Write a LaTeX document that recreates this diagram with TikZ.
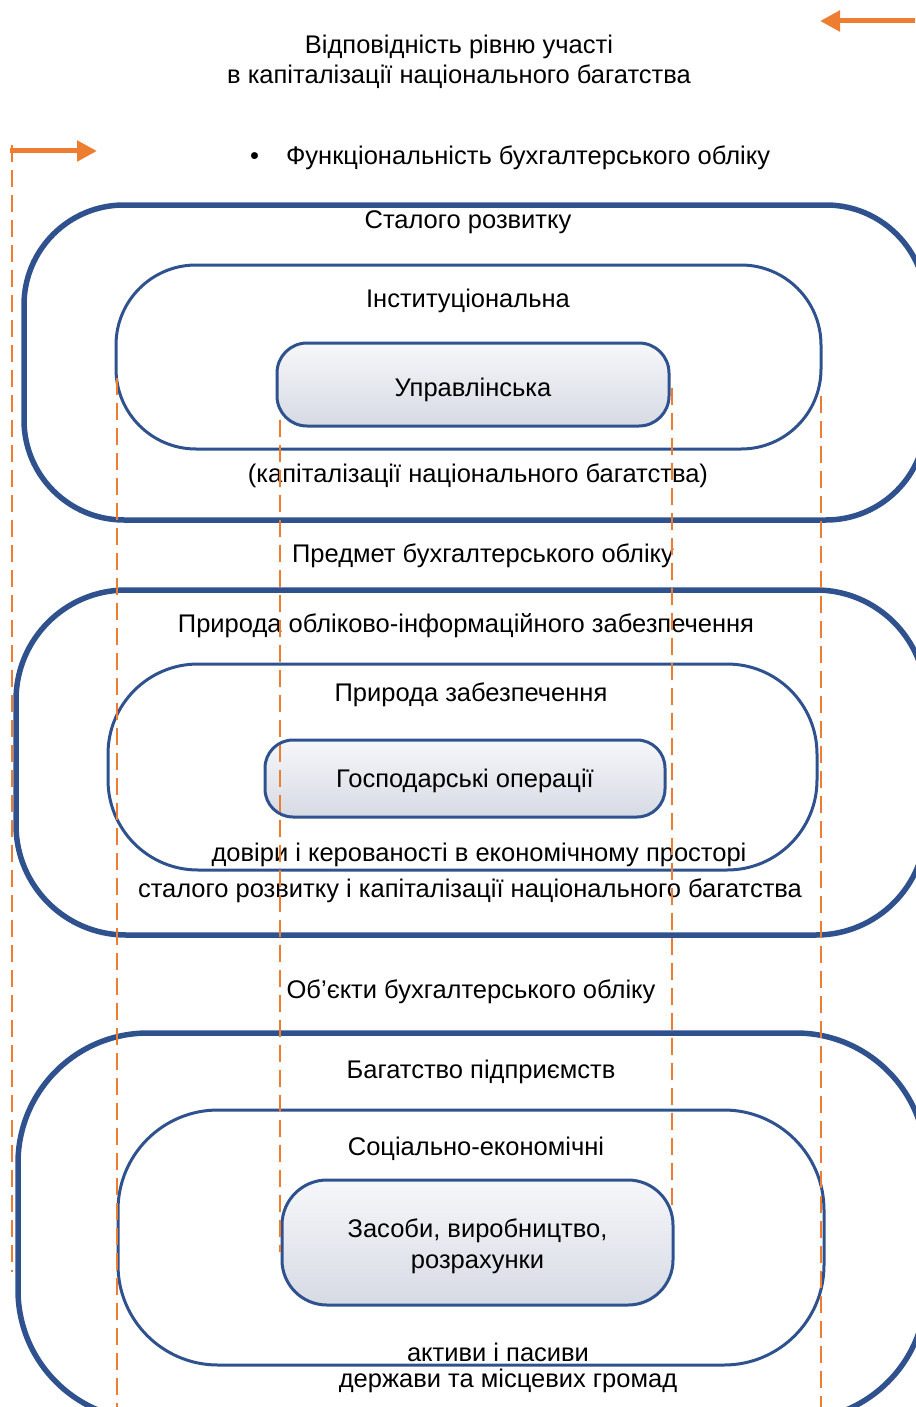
\documentclass[tikz,border=0pt]{standalone}
\usepackage{fontspec}
\setmainfont{Liberation Sans}
\usetikzlibrary{arrows.meta}
\definecolor{frameblue}{HTML}{2F528F}
\definecolor{guideorange}{HTML}{ED7D31}
\definecolor{coretop}{HTML}{F6F7FA}
\definecolor{corebot}{HTML}{D6DAE3}
\newcommand{\sinktext}[2]{\raisebox{-#1pt}[\height][\depth]{#2}}

\begin{document}
\begin{tikzpicture}[x=1pt,y=-1pt,
  outerbox/.style={draw=frameblue,line width=5.5pt,inner sep=0pt},
  innerbox/.style={draw=frameblue,line width=3pt,inner sep=0pt},
  corebox/.style={draw=frameblue,line width=3pt,top color=coretop,bottom color=corebot,align=center,
    font=\fontsize{25.5}{31}\selectfont},
  lbl/.style={inner sep=0pt,align=center,font=\fontsize{25.5}{30}\selectfont},
  guide/.style={draw=guideorange,line width=2.2pt,dash pattern=on 17pt off 8pt},
  movearrow/.style={draw=guideorange,line width=5pt,-{Triangle[length=20pt,width=20pt]}}]
\useasboundingbox (0,0) rectangle (915,1407);

% spheres
\node[outerbox,rounded corners=100pt,minimum width=902pt,minimum height=315pt] (sphereA) at (475,362.5) {};
\node[innerbox,rounded corners=80pt,minimum width=705pt,minimum height=184pt] (levelA) at (468.5,357) {};
\node[corebox,rounded corners=30pt,minimum width=392pt,minimum height=83pt] (coreA) at (473,384.5) {\sinktext{5}{Управлінська}};

\node[outerbox,rounded corners=110pt,minimum width=910pt,minimum height=345pt] (sphereB) at (471,762.5) {};
\node[innerbox,rounded corners=90pt,minimum width=709pt,minimum height=206pt] (levelB) at (462.5,767) {};
\node[corebox,rounded corners=28pt,minimum width=400pt,minimum height=77pt] (coreB) at (465,778.5) {\sinktext{2}{Господарські операції}};

\node[outerbox,rounded corners=130pt,minimum width=908pt,minimum height=387pt] (sphereC) at (472,1226.5) {};
\node[innerbox,rounded corners=100pt,minimum width=706pt,minimum height=255pt] (levelC) at (471,1237.5) {};
\node[corebox,rounded corners=45pt,minimum width=391pt,minimum height=125pt] (coreC) at (477.5,1242.5) {\sinktext{4}{Засоби, виробництво,}\\\sinktext{4}{розрахунки}};

% texts
\node[lbl] (title) at (459,62) {Відповідність рівню участі\\в капіталізації національного багатства};
\node[lbl,anchor=west] (func) at (250,158) {•\hspace{27pt}Функціональність бухгалтерського обліку};
\node[lbl] (tA1) at (468,222) {Сталого розвитку};
\node[lbl] (tA2) at (468,301) {Інституціональна};
\node[lbl] (tA3) at (478,476) {(капіталізації національного багатства)};
\node[lbl] (subj) at (483,556) {Предмет бухгалтерського обліку};
\node[lbl] (tB1) at (466,626) {Природа обліково-інформаційного забезпечення};
\node[lbl] (tB2) at (471,695) {Природа забезпечення};
\node[lbl] (tB3) at (479,855) {довіри і керованості в економічному просторі};
\node[lbl] (tB4) at (470,891) {сталого розвитку і капіталізації національного багатства};
\node[lbl] (obj) at (471,992) {Об’єкти бухгалтерського обліку};
\node[lbl] (tC1) at (481,1072) {Багатство підприємств};
\node[lbl] (tC2) at (476,1149) {Соціально-економічні};
\node[lbl] (tC3) at (498,1352) {активи і пасиви};
\node[lbl] (tC4) at (508,1381) {держави та місцевих громад};

% guides
\coordinate (g1a) at (12,145);   \coordinate (g1b) at (12,1272);
\coordinate (g2a) at (117,378);  \coordinate (g2b) at (117,1407);
\coordinate (g3a) at (280,420);  \coordinate (g3b) at (280,1252);
\coordinate (g4a) at (672,388);  \coordinate (g4b) at (672,1210);
\coordinate (g5a) at (821,396);  \coordinate (g5b) at (821,1407);
\foreach \g in {g1,g2,g3,g4,g5}
  \draw[guide] (\g a) -- (\g b);

\coordinate (inS) at (10,151);  \coordinate (inE) at (97,151);
\coordinate (outS) at (915,21); \coordinate (outE) at (820,21);
\draw[movearrow] (inS) -- (inE);
\draw[movearrow] (outS) -- (outE);
\end{tikzpicture}
\end{document}
